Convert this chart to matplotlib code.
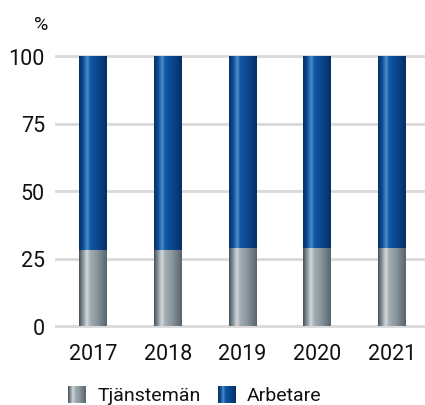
import numpy as np
import matplotlib
matplotlib.use("Agg")
import matplotlib.pyplot as plt
from matplotlib.colors import LinearSegmentedColormap

plt.rcParams['font.family'] = ['Roboto', 'DejaVu Sans']

years = ["2017", "2018", "2019", "2020", "2021"]
tjansteman = [28, 28, 29, 29, 29]
arbetare = [72, 72, 71, 71, 71]
series_names = ["Tjänstemän", "Arbetare"]

W, H = 425, 406
fig = plt.figure(figsize=(W / 100, H / 100), dpi=100)
ax = fig.add_axes([56 / W, 1 - 327 / H, (W - 56) / W, 270 / H])

grey_cmap = LinearSegmentedColormap.from_list("grey", [
    (0.0, "#45535d"), (0.12, "#7d8a93"), (0.28, "#d4d8db"), (0.4, "#a3adb3"),
    (0.65, "#8a959c"), (1.0, "#56656f")])
blue_cmap = LinearSegmentedColormap.from_list("blue", [
    (0.0, "#0a2e66"), (0.14, "#0c4a92"), (0.3, "#4d8cca"), (0.4, "#1157a2"),
    (0.65, "#0a4890"), (1.0, "#072e68")])
grad = np.linspace(0, 1, 128).reshape(1, -1)

x = np.arange(len(years))
width = 0.373
b1 = ax.bar(x, tjansteman, width, color="none", zorder=3)
b2 = ax.bar(x, arbetare, width, bottom=tjansteman, color="none", zorder=3)

def fill_gradient(bars, cmap):
    for p in bars:
        x0, y0 = p.get_x(), p.get_y()
        ax.imshow(grad, cmap=cmap, aspect="auto", zorder=3,
                  extent=[x0, x0 + p.get_width(), y0, y0 + p.get_height()])

fill_gradient(b1, grey_cmap)
fill_gradient(b2, blue_cmap)

ax.set_xlim(-0.493, 4.44)
ax.set_ylim(0, 100)
ax.set_yticks([0, 25, 50, 75, 100])
ax.set_xticks(x)
ax.set_xticklabels(years)
for yv in [0, 25, 50, 75, 100]:
    ax.axhline(yv, color="#d9d9d9", lw=2, zorder=1, clip_on=False)
for s in ax.spines.values():
    s.set_visible(False)
ax.tick_params(length=0, labelsize=15.5, colors="#111111", pad=8)
ax.tick_params(axis="x", pad=12)
fig.text(48 / W, 1 - 25 / H, "%", ha="right", va="center", fontsize=14, color="#111111")

# legend
for (sx, tx), name, cmap in zip([(68, 98), (218, 247)], series_names, [grey_cmap, blue_cmap]):
    lax = fig.add_axes([sx / W, 1 - 404 / H, 18 / W, 17 / H])
    lax.imshow(grad, cmap=cmap, aspect="auto")
    lax.axis("off")
    fig.text(tx / W, 1 - 396 / H, name, ha="left", va="center", fontsize=14, color="#111111")

fig.savefig("out.png", dpi=100)
